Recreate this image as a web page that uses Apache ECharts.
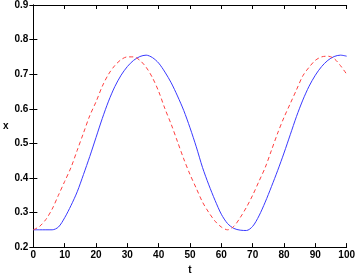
<!DOCTYPE html>
<html>
<head>
<meta charset="utf-8">
<script src="https://cdn.jsdelivr.net/npm/echarts@6/dist/echarts.min.js"></script>
<style>
  html, body { margin: 0; padding: 0; background: #fff; }
  #main { width: 358px; height: 280px; }
</style>
</head>
<body>
<div id="main"></div>
<script>
// t samples, every 2 units
var tVals = [0, 2, 4, 6, 8, 10, 12, 14, 16, 18, 20, 22, 24, 26, 28, 30, 32, 34, 36, 38, 40,
             42, 44, 46, 48, 50, 52, 54, 56, 58, 60, 62, 64, 66, 68, 70, 72, 74, 76, 78, 80,
             82, 84, 86, 88, 90, 92, 94, 96, 98, 100];

// solid blue curve
var blueVals = [0.25, 0.25, 0.25, 0.25, 0.258, 0.285, 0.32, 0.36, 0.41, 0.462, 0.517,
                0.572, 0.622, 0.664, 0.697, 0.722, 0.74, 0.751, 0.755, 0.748, 0.732,
                0.706, 0.675, 0.637, 0.595, 0.545, 0.49, 0.43, 0.38, 0.335, 0.295,
                0.268, 0.254, 0.249, 0.248, 0.26, 0.29, 0.33, 0.375, 0.422, 0.472,
                0.525, 0.578, 0.625, 0.665, 0.697, 0.722, 0.74, 0.751, 0.755, 0.752];

// dashed red curve
var redVals = [0.25, 0.26, 0.28, 0.31, 0.35, 0.39, 0.43, 0.48, 0.53, 0.58, 0.62,
               0.665, 0.70, 0.725, 0.742, 0.75, 0.75, 0.74, 0.72, 0.69, 0.65,
               0.60, 0.555, 0.505, 0.455, 0.41, 0.37, 0.33, 0.30, 0.275, 0.258,
               0.25, 0.26, 0.285, 0.315, 0.35, 0.39, 0.43, 0.48, 0.53, 0.575,
               0.615, 0.655, 0.695, 0.72, 0.74, 0.75, 0.752, 0.745, 0.725, 0.70];

function pairs(ys) {
    return tVals.map(function (t, i) { return [t, ys[i]]; });
}

var myChart = echarts.init(document.getElementById('main'));

var font = 'Liberation Sans, Arial, sans-serif';
var boxLine = { lineStyle: { color: '#000', width: 1 } };
var tickIn = { inside: true, length: 4, lineStyle: { color: '#000' } };

var option = {
    animation: false,
    backgroundColor: '#fff',
    grid: { left: 30, right: 9, top: 3, bottom: 23 },
    xAxis: [{
        type: 'value',
        min: 0, max: 100, interval: 10,
        name: 't',
        nameLocation: 'middle',
        nameGap: 15,
        nameTextStyle: { color: '#000', fontSize: 10, fontWeight: 'bold', fontFamily: font },
        axisLine: boxLine,
        axisTick: tickIn,
        axisLabel: { color: '#000', fontSize: 10, fontWeight: 'bold', fontFamily: font, margin: 3 },
        splitLine: { show: false }
    }, {
        type: 'value',
        position: 'top',
        min: 0, max: 100, interval: 10,
        axisLine: boxLine,
        axisTick: tickIn,
        axisLabel: { show: false },
        splitLine: { show: false }
    }],
    yAxis: [{
        type: 'value',
        min: 0.2, max: 0.9, interval: 0.1,
        name: 'x',
        nameLocation: 'middle',
        nameRotate: 0,
        nameGap: 24,
        nameTextStyle: { color: '#000', fontSize: 10, fontWeight: 'bold', fontFamily: font },
        axisLine: boxLine,
        axisTick: tickIn,
        axisLabel: {
            color: '#000', fontSize: 10, fontWeight: 'bold', fontFamily: font, margin: 5,
            formatter: function (v) { return v.toFixed(1); }
        },
        splitLine: { show: false }
    }, {
        type: 'value',
        position: 'right',
        min: 0.2, max: 0.9, interval: 0.1,
        axisLine: boxLine,
        axisTick: tickIn,
        axisLabel: { show: false },
        splitLine: { show: false }
    }],
    series: [{
        name: 'blue',
        type: 'line',
        data: pairs(blueVals),
        smooth: 0.3,
        showSymbol: false,
        lineStyle: { color: '#3a3aff', width: 1 }
    }, {
        name: 'red',
        type: 'line',
        data: pairs(redVals),
        smooth: 0.3,
        showSymbol: false,
        lineStyle: { color: '#ff4040', width: 1, type: [4, 3] }
    }]
};

myChart.setOption(option);
</script>
</body>
</html>
